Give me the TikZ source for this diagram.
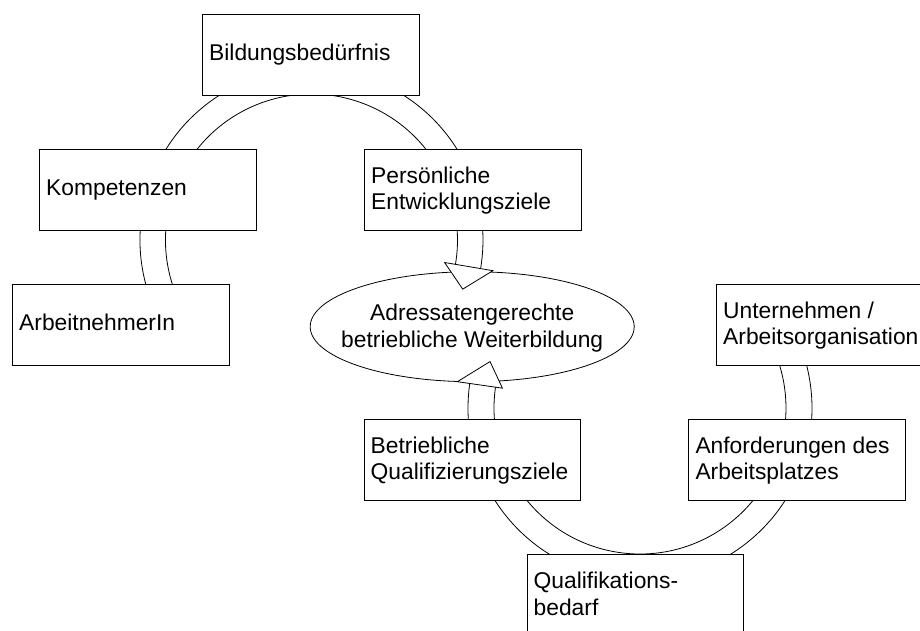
\documentclass[tikz,border=0pt]{standalone}
\usepackage{fontspec}
\setmainfont{Liberation Sans}
\usetikzlibrary{calc,shapes.geometric}
\newcommand{\twolines}[2]{\begin{tabular}[t]{@{}l@{}}#1\\#2\end{tabular}}
\begin{document}
\begin{tikzpicture}[x=1pt,y=1pt,
  box/.style={draw=black, line width=1.1pt, fill=white, rectangle, inner sep=0pt,
              minimum width=216.5pt, minimum height=81pt, anchor=north west},
  txt/.style={anchor=base west, inner sep=0pt, font=\fontsize{22.8}{26.6}\selectfont},
  ctxt/.style={anchor=base, inner sep=0pt, font=\fontsize{22.8}{26.6}\selectfont},
  ring/.style={draw=black, line width=0.8pt},
  head/.style={draw=black, line width=0.8pt, fill=white, line join=miter}]
\useasboundingbox (0,0) rectangle (920,-631);
\clip (0,0) rectangle (920,-631);
\fill[white] (0,0) rectangle (920,-631);

% ring centres
\coordinate (T) at (311.5,-240);
\coordinate (B) at (640,-408);

% upper ring (ArbeitnehmerIn - Kompetenzen - Bildungsbeduerfnis - Persoenliche -> Weiterbildung)
\draw[ring] ([shift={(200:146)}]T) arc[start angle=200, end angle=-9.6, radius=146];
\draw[ring] ([shift={(200:171.5)}]T) arc[start angle=200, end angle=-9.6, radius=171.5];

% lower ring (Unternehmen - Anforderungen - Qualifikationsbedarf - Betriebliche -> Weiterbildung)
\draw[ring] ([shift={(171.8:146)}]B) arc[start angle=171.8, end angle=389, radius=146];
\draw[ring] ([shift={(171.8:172)}]B) arc[start angle=171.8, end angle=389, radius=172];

% boxes
\node[box] (bild) at (202,-14) {};
\node[box] (komp) at (39,-149) {};
\node[box] (arbn) at (12,-284) {};
\node[box] (pers) at (364,-149) {};
\node[box] (untn) at (716,-284) {};
\node[box] (betr) at (363.5,-419) {};
\node[box] (anfo) at (688.3,-419) {};
\node[box] (qual) at (526.5,-554) {};

% ellipse
\node[draw=black, line width=0.8pt, fill=white, ellipse, inner sep=0pt,
      minimum width=324pt, minimum height=110pt] (weit) at (472.2,-326.7) {};

% arrowheads
\draw[head] ($(T)+(-9.6:135)$) -- ($(T)+(-9.6:184)$) -- ($(T)+(-18:159)$) -- cycle;
\draw[head] ($(B)+(171.8:139)$) -- ($(B)+(171.8:184.5)$) -- ($(B)+(162.8:157)$) -- cycle;

% texts
\node[txt] (tbild) at ($(bild.north west)+(7,-47)$) {Bildungsbedürfnis};
\node[txt] (tkomp) at ($(komp.north west)+(7,-47)$) {Kompetenzen};
\node[txt] (tarbn) at ($(arbn.north west)+(7,-46.7)$) {ArbeitnehmerIn};
\node[txt] (tpers) at ($(pers.north west)+(7,-34.3)$) {\twolines{Persönliche}{Entwicklungsziele}};
\node[txt] (tuntn) at ($(untn.north west)+(7,-34.3)$) {\twolines{Unternehmen /}{Arbeitsorganisation}};
\node[txt] (tbetr) at ($(betr.north west)+(7,-34.3)$) {\twolines{Betriebliche}{Qualifizierungsziele}};
\node[txt] (tanfo) at ($(anfo.north west)+(7,-34.3)$) {\twolines{Anforderungen des}{Arbeitsplatzes}};
\node[txt] (tqual) at ($(qual.north west)+(7,-34.8)$) {\twolines{Qualifikations-}{bedarf}};
\node[ctxt] (tweit) at (472.2,-320.7) {\begin{tabular}[t]{@{}c@{}}Adressatengerechte\\betriebliche Weiterbildung\end{tabular}};
\end{tikzpicture}
\end{document}
